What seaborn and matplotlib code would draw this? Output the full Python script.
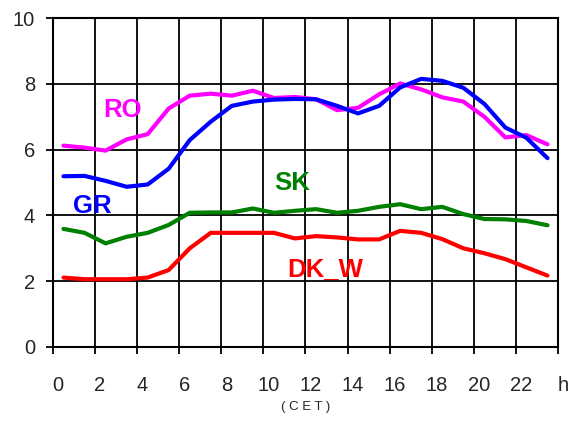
import numpy as np
import pandas as pd
import matplotlib
matplotlib.use("Agg")
import matplotlib.pyplot as plt
import matplotlib.transforms as mtransforms
import seaborn as sns

# ─── Data ────────────────────────────────────────────────────────────────────
HOURS = [h + 0.5 for h in range(24)]

RO = [6.12, 6.06, 5.97, 6.31, 6.47, 7.25, 7.64, 7.70, 7.64, 7.79, 7.57, 7.60,
      7.53, 7.20, 7.27, 7.68, 8.01, 7.83, 7.59, 7.46, 7.00, 6.37, 6.44, 6.16]
GR = [5.19, 5.20, 5.05, 4.87, 4.94, 5.42, 6.29, 6.85, 7.33, 7.46, 7.52, 7.54,
      7.53, 7.33, 7.10, 7.33, 7.89, 8.15, 8.09, 7.88, 7.39, 6.67, 6.36, 5.74]
SK = [3.59, 3.47, 3.15, 3.35, 3.47, 3.71, 4.08, 4.09, 4.09, 4.21, 4.08, 4.14,
      4.19, 4.08, 4.14, 4.26, 4.34, 4.19, 4.26, 4.04, 3.89, 3.88, 3.83, 3.70]
DK_W = [2.11, 2.06, 2.06, 2.06, 2.11, 2.34, 3.00, 3.47, 3.47, 3.47, 3.47, 3.30,
        3.37, 3.33, 3.27, 3.27, 3.53, 3.47, 3.28, 3.00, 2.85, 2.67, 2.42, 2.17]

SERIES = ["RO", "GR", "SK", "DK_W"]
X_TICKS = list(range(0, 25, 2))
X_LABELS = [str(t) for t in range(0, 24, 2)] + ["h"]
Y_TICKS = [0, 2, 4, 6, 8, 10]

# ─── Style ────────────────────────────────────────────────────────────────────
COLORS = {"RO": "#FF00FF", "GR": "#0000FF", "SK": "#008000", "DK_W": "#FF0000"}
# label anchor positions in data coords
LABEL_POS = {"RO": (3.3, 7.2), "GR": (1.85, 4.3), "SK": (11.35, 5.0), "DK_W": (12.95, 2.37)}

sns.set_style("white")
plt.rcParams["font.family"] = ["Liberation Sans", "DejaVu Sans"]

df = pd.DataFrame({
    "hour": HOURS * 4,
    "value": RO + GR + SK + DK_W,
    "series": [s for s in SERIES for _ in HOURS],
})

fig = plt.figure(figsize=(5.86, 4.21), dpi=100)
ax = fig.add_axes([0.0904, 0.1758, 0.8618, 0.7814])

sns.lineplot(data=df, x="hour", y="value", hue="series", palette=COLORS,
             linewidth=3.0, legend=False, ax=ax, zorder=3)

for name, (lx, ly) in LABEL_POS.items():
    ax.text(lx, ly, name, color=COLORS[name], fontsize=18.5, fontweight="bold",
            ha="center", va="center", zorder=4)

ax.set_xlim(0, 24)
ax.set_ylim(0, 10)
ax.set_xticks(X_TICKS)
ax.set_xticklabels(X_LABELS)
ax.set_yticks(Y_TICKS)
ax.grid(True, color="black", linewidth=1.3, zorder=1)
ax.set_axisbelow(True)
for sp in ax.spines.values():
    sp.set_color("black")
    sp.set_linewidth(1.5)

ax.tick_params(axis="x", direction="out", length=5, width=1.3, color="black",
               pad=16, labelsize=14.5)
ax.tick_params(axis="y", direction="out", length=5, width=1.3, color="black",
               pad=8, labelsize=14.5)
ax.tick_params(bottom=True, left=True)

# labels in the reference sit a little right of their ticks
shift = mtransforms.ScaledTranslation(5 / 100, 0, fig.dpi_scale_trans)
for lbl in ax.get_xticklabels():
    lbl.set_transform(lbl.get_transform() + shift)

ax.set_xlabel("( C E T )", fontsize=9.5, labelpad=4)
ax.set_ylabel("")

fig.savefig("out.png", dpi=100)
